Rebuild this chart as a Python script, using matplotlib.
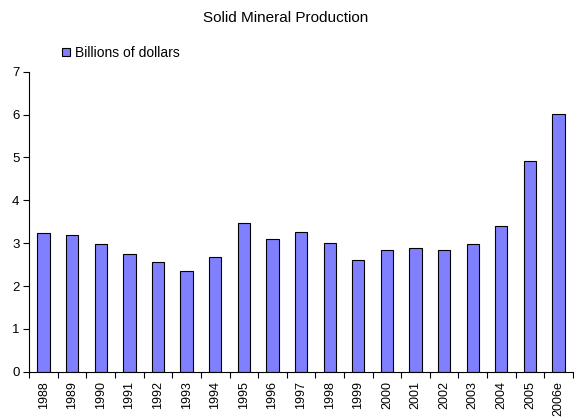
import matplotlib
matplotlib.use("Agg")
import matplotlib.pyplot as plt
import numpy as np

plt.rcParams['font.family'] = ['Liberation Sans', 'DejaVu Sans']

years = ["1988", "1989", "1990", "1991", "1992", "1993", "1994", "1995", "1996", "1997",
         "1998", "1999", "2000", "2001", "2002", "2003", "2004", "2005", "2006e"]
values = [3.23, 3.18, 2.98, 2.75, 2.55, 2.35, 2.67, 3.46, 3.10, 3.26,
          3.01, 2.60, 2.85, 2.88, 2.85, 2.98, 3.41, 4.92, 6.01]
series_name = "Billions of dollars"
title = "Solid Mineral Production"

fig = plt.figure(figsize=(5.74, 4.17), dpi=100)
ax = fig.add_axes([0.051, 0.1086, 0.947, 0.7194])

x = np.arange(len(years))
ax.bar(x, values, width=0.43, color="#8080FF", edgecolor="black", linewidth=0.8,
       label=series_name)

ax.set_xlim(-0.5, len(years) - 0.5)
ax.set_ylim(0, 7)
ax.set_yticks(range(0, 8))
ax.tick_params(axis='y', labelsize=9.5, length=4, width=0.8, direction='out', pad=3)

ax.set_xticks(x)
ax.set_xticklabels(years, rotation=90, fontsize=9)
ax.tick_params(axis='x', which='major', length=0, pad=7)
ax.set_xticks(np.arange(-0.5, len(years)), minor=True)
ax.tick_params(axis='x', which='minor', length=4, width=0.8, direction='out')

for s in ['top', 'right']:
    ax.spines[s].set_visible(False)
for s in ['left', 'bottom']:
    ax.spines[s].set_linewidth(0.8)

fig.text(0.497, 0.957, title, ha='center', va='center', fontsize=11)

leg = ax.legend(loc='upper left', bbox_to_anchor=(0.060, 1.085), frameon=False,
                fontsize=10, handlelength=0.55, handleheight=0.55, handletextpad=0.4,
                borderaxespad=0, borderpad=0)

fig.savefig("out.png", dpi=100)
